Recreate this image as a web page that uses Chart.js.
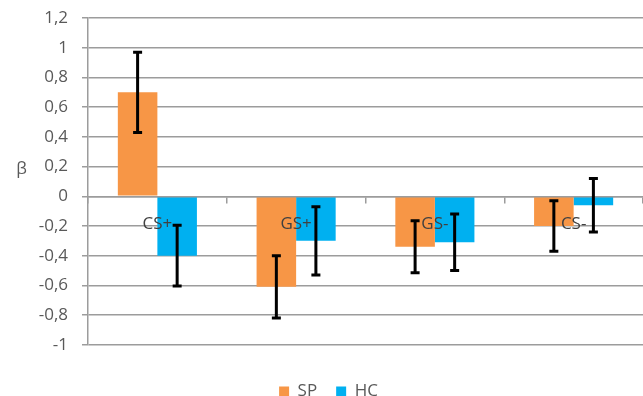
<!DOCTYPE html>
<html>
<head>
<meta charset="utf-8">
<script src="https://cdn.jsdelivr.net/npm/chart.js@4/dist/chart.umd.min.js"></script>
<style>
  html, body { margin: 0; padding: 0; background: #ffffff; }
  #wrap { width: 643px; height: 396px; position: relative; }
</style>
</head>
<body>
<div id="wrap"><canvas id="chart"></canvas></div>
<script>
// Conditions on the x axis
const categories = ['CS+', 'GS+', 'GS-', 'CS-'];

// Mean beta per group
const spValues = [0.70, -0.61, -0.34, -0.20];
const hcValues = [-0.40, -0.30, -0.31, -0.06];

// Half-length of each error bar
const spErrors = [0.27, 0.21, 0.175, 0.17];
const hcErrors = [0.205, 0.23, 0.19, 0.18];

// Value axis ticks
const yTicks = [-1, -0.8, -0.6, -0.4, -0.2, 0, 0.2, 0.4, 0.6, 0.8, 1, 1.2];

const seriesNames = ['SP', 'HC'];
const seriesColors = ['#F79646', '#00B0F0'];
const errorSets = [spErrors, hcErrors];

const FONT = '"Open Sans", Lato, sans-serif';
const FONT_SIZE = 17;
const GRID = '#9c9c9c';

// Whiskers drawn over the bars, centred on each bar
const errorBars = {
  id: 'errorBars',
  afterDraw(chart) {
    const ctx = chart.ctx;
    const y = chart.scales.y;
    ctx.save();
    ctx.strokeStyle = '#000000';
    ctx.lineWidth = 3;
    chart.data.datasets.forEach((ds, i) => {
      const meta = chart.getDatasetMeta(i);
      meta.data.forEach((bar, j) => {
        const v = ds.data[j];
        const e = errorSets[i][j];
        const top = y.getPixelForValue(v + e);
        const bot = y.getPixelForValue(v - e);
        const x = bar.x;
        ctx.beginPath();
        ctx.moveTo(x, top);
        ctx.lineTo(x, bot);
        ctx.moveTo(x - 4.5, top);
        ctx.lineTo(x + 4.5, top);
        ctx.moveTo(x - 4.5, bot);
        ctx.lineTo(x + 4.5, bot);
        ctx.stroke();
      });
    });
    ctx.restore();
  }
};

// Upright axis title beside the value ticks
const betaTitle = {
  id: 'betaTitle',
  afterDraw(chart) {
    const ctx = chart.ctx;
    ctx.save();
    ctx.font = FONT_SIZE + 'px ' + FONT;
    ctx.fillStyle = '#595959';
    ctx.textAlign = 'center';
    ctx.textBaseline = 'middle';
    ctx.fillText('β', 21.5, 169);
    ctx.restore();
  }
};

const formatTick = v => {
  const r = Math.round(v * 10) / 10;
  return String(r).replace('.', ',');
};

new Chart(document.getElementById('chart'), {
  type: 'bar',
  data: {
    labels: categories,
    datasets: [
      { label: seriesNames[0], data: spValues, backgroundColor: seriesColors[0], borderWidth: 0 },
      { label: seriesNames[1], data: hcValues, backgroundColor: seriesColors[1], borderWidth: 0 }
    ]
  },
  options: {
    responsive: true,
    maintainAspectRatio: false,
    animation: false,
    layout: { padding: { top: 18, right: 0, bottom: -14, left: 14 } },
    datasets: { bar: { categoryPercentage: 0.57, barPercentage: 1.0 } },
    scales: {
      x: {
        position: { y: 0 },
        afterFit(scale) { scale.height = 0; },
        grid: { offset: true, drawOnChartArea: false, tickLength: 6, color: GRID, lineWidth: 1.5 },
        border: { color: GRID, width: 1.5, z: 1 },
        ticks: { z: 2, color: '#404040', font: { family: FONT, size: FONT_SIZE }, padding: 12, maxRotation: 0 }
      },
      y: {
        min: -1,
        max: 1.2,
        afterFit(scale) {
          scale.width = 74;
          scale.paddingTop = 0;
          scale.paddingBottom = 0;
        },
        afterBuildTicks(scale) { scale.ticks = yTicks.map(v => ({ value: v })); },
        grid: { color: GRID, lineWidth: 1.5, tickLength: 6 },
        border: { color: GRID, width: 1.5 },
        ticks: {
          color: '#595959',
          font: { family: FONT, size: FONT_SIZE },
          padding: 14,
          callback: v => formatTick(v)
        }
      }
    },
    plugins: {
      legend: {
        position: 'bottom',
        title: { display: true, text: '', font: { size: 1 }, padding: { top: 18, bottom: 0 } },
        labels: {
          color: '#595959',
          font: { family: FONT, size: FONT_SIZE },
          boxWidth: 10,
          boxHeight: 10,
          padding: 19
        }
      },
      tooltip: { enabled: false }
    }
  },
  plugins: [errorBars, betaTitle]
});
</script>
</body>
</html>
